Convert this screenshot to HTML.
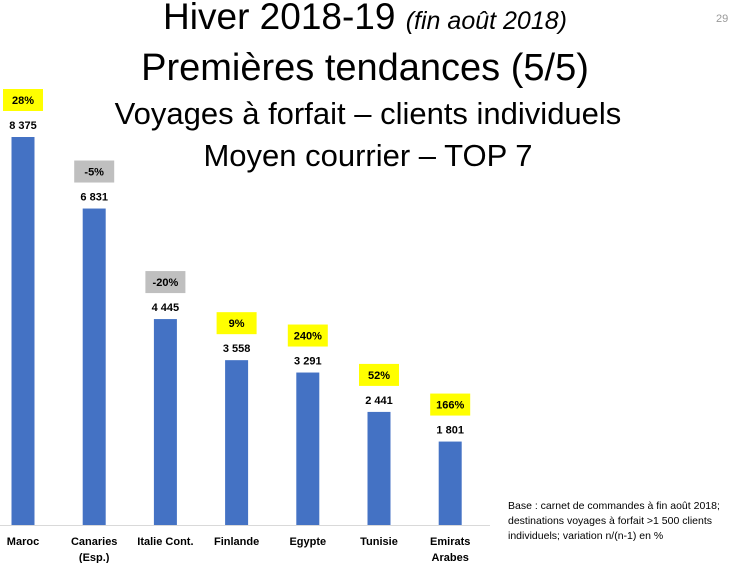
<!DOCTYPE html>
<html><head><meta charset="utf-8"><style>
body{margin:0;background:#fff;font-family:"Liberation Sans",sans-serif;}
#wrap{position:relative;width:746px;height:563px;overflow:hidden;}
.t{position:absolute;left:0;width:746px;text-align:center;color:#000;white-space:nowrap;}
</style></head><body>
<div id="wrap">
<div class="t" style="top:-4px;font-size:37px;left:-8px">Hiver 2018-19 <i style="font-size:25px">(fin août 2018)</i></div>
<div class="t" style="top:47px;font-size:38px;left:-8px">Premières tendances (5/5)</div>
<div class="t" style="top:96px;font-size:31px;left:-5px">Voyages à forfait – clients individuels</div>
<div class="t" style="top:138px;font-size:31px;left:-5px">Moyen courrier – TOP 7</div>
<div style="position:absolute;left:716px;top:13px;font-size:11px;color:#999">29</div>
<div style="position:absolute;left:508px;top:499px;font-size:10.5px;line-height:15px;color:#000">Base : carnet de commandes à fin août 2018;<br>destinations voyages à forfait &gt;1 500 clients<br>individuels; variation n/(n-1) en %</div>
<svg id="chart" width="746" height="563" style="position:absolute;left:0;top:0"></svg>
</div>
<script>
const categories=["Maroc","Canaries|(Esp.)","Italie Cont.","Finlande","Egypte","Tunisie","Emirats|Arabes"];
const values=[8375,6831,4445,3558,3291,2441,1801];
const valueLabels=["8 375","6 831","4 445","3 558","3 291","2 441","1 801"];
const variations=["28%","-5%","-20%","9%","240%","52%","166%"];
const NS="http://www.w3.org/2000/svg";
const svg=document.getElementById("chart");
const base=525, scale=388/8375, x0=23, step=71.2, bw=23;
const y=v=>base-v*scale, x=i=>x0+i*step;
function mk(t,a){const e=document.createElementNS(NS,t);for(const k in a)e.setAttribute(k,a[k]);svg.appendChild(e);return e;}
const ax=mk("line",{x1:0,x2:490,y1:base+0.5,y2:base+0.5,stroke:"#d9d9d9","stroke-width":1});


values.forEach((v,i)=>{
  const cx=x(i), top=y(v);
  const b=mk("rect",{x:cx-bw/2,y:top,width:bw,height:base-top,fill:"#4472c4"});
  
  
  const vl=mk("text",{x:cx,y:top-8,"text-anchor":"middle","font-size":"11","font-weight":"bold","font-family":"Liberation Sans"});
  vl.textContent=valueLabels[i];
  
  
  const neg=variations[i].startsWith("-");
  const bx=mk("rect",{x:cx-20,y:top-48,width:40,height:22,fill:neg?"#bfbfbf":"#ffff00"});
  
  
  const pt=mk("text",{x:cx,y:top-33,"text-anchor":"middle","font-size":"11","font-weight":"bold","font-family":"Liberation Sans"});
  pt.textContent=variations[i];
  
  
  categories[i].split("|").forEach((ln,j)=>{
    const c=mk("text",{x:cx,y:545+j*16,"text-anchor":"middle","font-size":"11","font-weight":"bold","font-family":"Liberation Sans"});
    c.textContent=ln;
    
    
  });
});
</script>
</body></html>
